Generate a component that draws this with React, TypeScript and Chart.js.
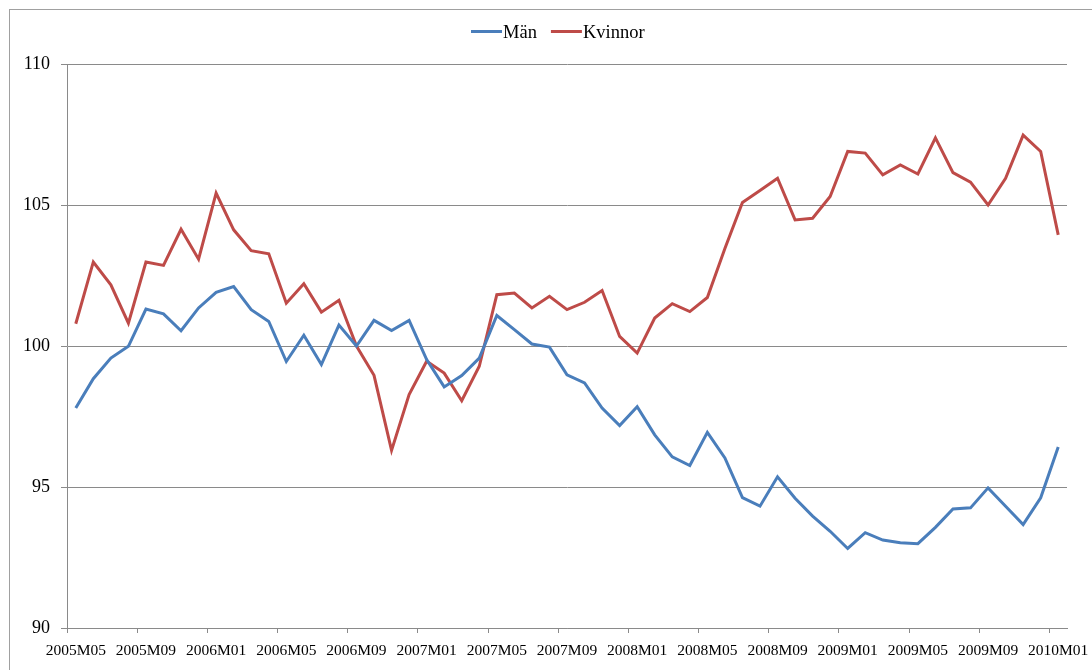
import React, { useEffect, useRef } from "react";
import { Chart, registerables } from "chart.js";

Chart.register(...registerables);

const categories = [
  "2005M05", "2005M06", "2005M07", "2005M08", "2005M09", "2005M10", "2005M11", "2005M12",
  "2006M01", "2006M02", "2006M03", "2006M04", "2006M05", "2006M06", "2006M07", "2006M08",
  "2006M09", "2006M10", "2006M11", "2006M12",
  "2007M01", "2007M02", "2007M03", "2007M04", "2007M05", "2007M06", "2007M07", "2007M08",
  "2007M09", "2007M10", "2007M11", "2007M12",
  "2008M01", "2008M02", "2008M03", "2008M04", "2008M05", "2008M06", "2008M07", "2008M08",
  "2008M09", "2008M10", "2008M11", "2008M12",
  "2009M01", "2009M02", "2009M03", "2009M04", "2009M05", "2009M06", "2009M07", "2009M08",
  "2009M09", "2009M10", "2009M11", "2009M12",
  "2010M01",
];

const manValues = [
  97.8, 98.84, 99.57, 99.99, 101.31, 101.14, 100.54, 101.35, 101.9, 102.11,
  101.29, 100.87, 99.45, 100.38, 99.34, 100.74, 100.0, 100.91, 100.55, 100.91,
  99.52, 98.55, 98.95, 99.57, 101.08, 100.58, 100.07, 99.96, 98.98, 98.69,
  97.8, 97.18, 97.85, 96.85, 96.07, 95.76, 96.94, 96.03, 94.62, 94.32,
  95.36, 94.6, 93.97, 93.43, 92.82, 93.38, 93.12, 93.02, 92.99, 93.57,
  94.22, 94.26, 94.97, 94.32, 93.67, 94.62, 96.42,
];

const kvinnorValues = [
  100.79, 102.98, 102.17, 100.81, 102.98, 102.86, 104.14, 103.08, 105.42, 104.12,
  103.38, 103.27, 101.52, 102.21, 101.2, 101.62, 100.0, 98.96, 96.3, 98.28,
  99.46, 99.04, 98.06, 99.28, 101.82, 101.88, 101.35, 101.76, 101.29, 101.55,
  101.97, 100.34, 99.75, 100.99, 101.5, 101.22, 101.72, 103.46, 105.09, 105.51,
  105.95, 104.47, 104.53, 105.3, 106.9, 106.84, 106.07, 106.42, 106.1, 107.38,
  106.15, 105.81, 105.0, 105.95, 107.48, 106.9, 103.94,
];

const seriesNames = ["Män", "Kvinnor"];
const seriesColors = ["#4A7EBB", "#BE4B48"];
const yTicks = [90, 95, 100, 105, 110];
const labelEvery = 4;

const FONT = '"Liberation Serif", "Times New Roman", serif';
const GRID = "#8a8a8a";

const framePlugin = {
  id: "frame",
  beforeDraw(chart: any) {
    const ctx = chart.ctx;
    ctx.save();
    ctx.strokeStyle = "#a0a0a0";
    ctx.lineWidth = 1;
    ctx.strokeRect(9.5, 9.5, 3000, 3000);
    ctx.restore();
  },
};

const lineLegendPlugin = {
  id: "lineLegend",
  afterDraw(chart: any) {
    const ctx = chart.ctx;
    ctx.save();
    ctx.font = `18.5px ${FONT}`;
    ctx.textBaseline = "alphabetic";
    let x = 471;
    const lineY = 31.5;
    const textY = 38;
    chart.data.datasets.forEach((ds: any) => {
      ctx.strokeStyle = ds.borderColor;
      ctx.lineWidth = 3;
      ctx.beginPath();
      ctx.moveTo(x, lineY);
      ctx.lineTo(x + 31, lineY);
      ctx.stroke();
      x += 32;
      ctx.fillStyle = "#000";
      ctx.fillText(ds.label, x, textY);
      x += ctx.measureText(ds.label).width + 14;
    });
    ctx.restore();
  },
};

export default function App() {
  const canvasRef = useRef<HTMLCanvasElement>(null);

  useEffect(() => {
    if (!canvasRef.current) return;
    const chart = new Chart(canvasRef.current, {
      type: "line",
      data: {
        labels: categories,
        datasets: [
          {
            label: seriesNames[0],
            data: manValues,
            borderColor: seriesColors[0],
            backgroundColor: seriesColors[0],
            borderWidth: 3,
            pointRadius: 0,
            tension: 0,
          },
          {
            label: seriesNames[1],
            data: kvinnorValues,
            borderColor: seriesColors[1],
            backgroundColor: seriesColors[1],
            borderWidth: 3,
            pointRadius: 0,
            tension: 0,
          },
        ],
      },
      options: {
        animation: false,
        responsive: true,
        maintainAspectRatio: false,
        layout: { padding: { top: 64, right: 25, bottom: 0, left: 0 } },
        plugins: {
          legend: { display: false },
          tooltip: { enabled: false },
        },
        scales: {
          x: {
            type: "category",
            offset: true,
            afterFit: (scale: any) => {
              scale.height = 42;
              scale.paddingLeft = 0;
              scale.paddingRight = 0;
            },
            grid: {
              display: true,
              offset: true,
              drawOnChartArea: false,
              drawTicks: true,
              tickLength: 5,
              tickColor: (ctx: any) => (ctx.index % labelEvery === 0 && ctx.index < categories.length ? GRID : "rgba(0,0,0,0)"),
            },
            border: { display: true, color: GRID, width: 1 },
            ticks: {
              autoSkip: false,
              maxRotation: 0,
              minRotation: 0,
              padding: 9,
              color: "#000",
              font: { family: FONT, size: 15.5 },
              callback: (_v: any, i: number) => (i % labelEvery === 0 ? categories[i] : ""),
            },
          },
          y: {
            min: yTicks[0],
            max: yTicks[yTicks.length - 1],
            afterFit: (scale: any) => {
              scale.width = 67;
            },
            afterBuildTicks: (scale: any) => {
              scale.ticks = yTicks.map((v) => ({ value: v }));
            },
            grid: {
              color: GRID,
              lineWidth: 1,
              drawTicks: true,
              tickLength: 6,
              tickColor: GRID,
            },
            border: { display: true, color: GRID, width: 1 },
            ticks: {
              padding: 11,
              color: "#000",
              font: { family: FONT, size: 18 },
            },
          },
        },
      },
      plugins: [framePlugin, lineLegendPlugin],
    });
    return () => chart.destroy();
  }, []);

  return (
    <div style={{ position: "fixed", left: 0, top: 0, width: 1092, height: 670, overflow: "hidden", background: "#fff" }}>
      <canvas ref={canvasRef} />
    </div>
  );
}
